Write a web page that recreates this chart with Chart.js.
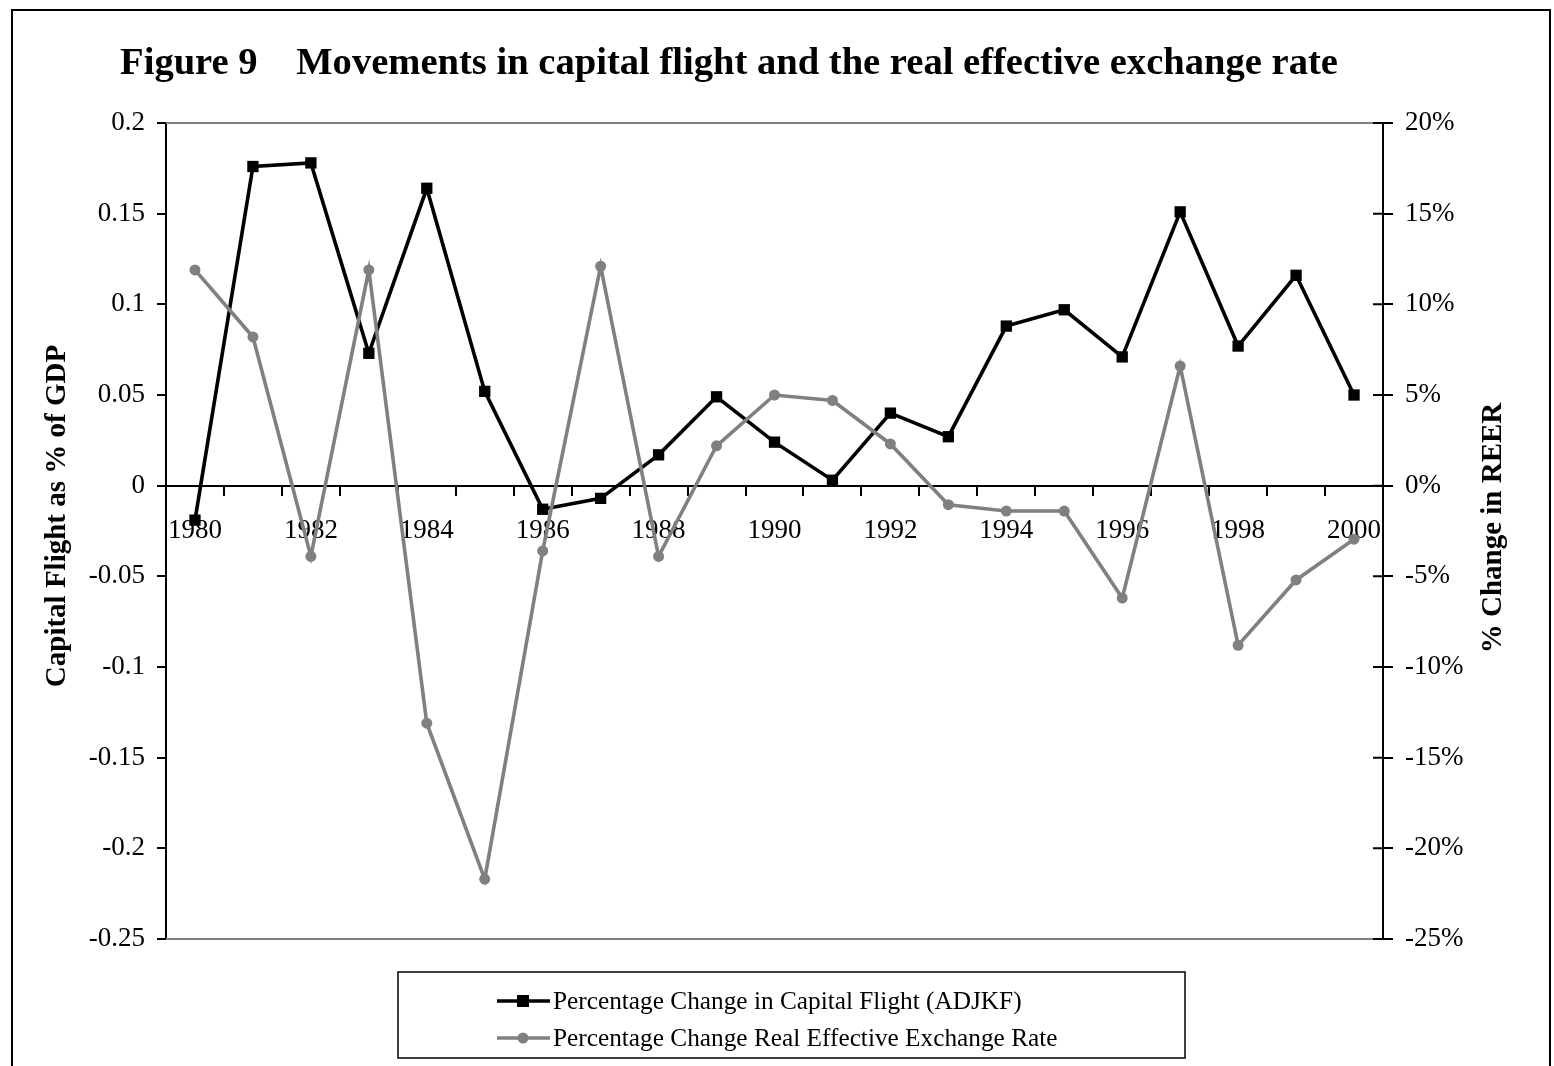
<!DOCTYPE html>
<html>
<head>
<meta charset="utf-8">
<script src="https://cdn.jsdelivr.net/npm/chart.js@4.4.0/dist/chart.umd.min.js"></script>
<style>
  html, body { margin: 0; padding: 0; background: #fff; }
  #wrap { width: 1554px; height: 1066px; }
</style>
</head>
<body>
<div id="wrap"><canvas id="chart" width="1554" height="1066"></canvas></div>
<script>
// Daten
const years = ["1980","1981","1982","1983","1984","1985","1986","1987","1988","1989","1990",
               "1991","1992","1993","1994","1995","1996","1997","1998","1999","2000"];
const capitalFlight = [-0.019, 0.176, 0.178, 0.073, 0.164, 0.052, -0.013, -0.007, 0.017, 0.049, 0.024,
                       0.003, 0.040, 0.027, 0.088, 0.097, 0.071, 0.151, 0.077, 0.116, 0.050];
const reerChange = [11.9, 8.2, -3.9, 11.9, -13.1, -21.7, -3.6, 12.1, -3.9, 2.2, 5.0,
                    4.7, 2.3, -1.05, -1.4, -1.4, -6.2, 6.6, -8.8, -5.2, -2.95];

const seriesNames = ["Percentage Change in Capital Flight (ADJKF)",
                     "Percentage Change Real Effective Exchange Rate"];
const titleText = "Figure 9    Movements in capital flight and the real effective exchange rate";
const leftTitle = "Capital Flight as % of GDP";
const rightTitle = "% Change in REER";

const FONT = "'Liberation Serif', 'Times New Roman', serif";
Chart.defaults.font.family = FONT;
Chart.defaults.color = "#000";

/* --------- Rahmen, Titel, Legende --------- */
const decorations = {
  id: "decorations",
  beforeDatasetsDraw(chart) {
    const { ctx, chartArea: a } = chart;
    ctx.save();
    ctx.strokeStyle = "#808080";
    ctx.lineWidth = 2;
    ctx.beginPath();
    ctx.moveTo(a.left, a.top); ctx.lineTo(a.right, a.top);
    ctx.moveTo(a.left, a.bottom); ctx.lineTo(a.right, a.bottom);
    ctx.stroke();
    // Striche der rechten Achse auch nach innen
    const y1 = chart.scales.y1;
    ctx.strokeStyle = "#000";
    ctx.beginPath();
    y1.ticks.forEach((t, i) => {
      const py = y1.getPixelForTick(i);
      ctx.moveTo(a.right - 10, py); ctx.lineTo(a.right, py);
    });
    ctx.stroke();
    ctx.restore();
  },
  afterDraw(chart) {
    const { ctx } = chart;
    ctx.save();
    // äußerer Rahmen
    ctx.strokeStyle = "#000";
    ctx.lineWidth = 2;
    ctx.beginPath();
    ctx.moveTo(12, 1070); ctx.lineTo(12, 10); ctx.lineTo(1550, 10); ctx.lineTo(1550, 1070);
    ctx.stroke();

    // Titel
    ctx.fillStyle = "#000";
    ctx.font = "bold 38.6px " + FONT;
    ctx.textAlign = "center";
    ctx.textBaseline = "middle";
    ctx.fillText(titleText, 729, 64);

    // Achsentitel
    ctx.font = "bold 29px " + FONT;
    ctx.save();
    ctx.translate(58, 516);
    ctx.rotate(-Math.PI / 2);
    ctx.fillText(leftTitle, 0, 0);
    ctx.restore();
    ctx.save();
    ctx.translate(1494, 528);
    ctx.rotate(-Math.PI / 2);
    ctx.fillText(rightTitle, 0, 0);
    ctx.restore();

    // Legende
    ctx.lineWidth = 1.5;
    ctx.strokeStyle = "#000";
    ctx.strokeRect(398, 972, 787, 86);
    ctx.font = "25.3px " + FONT;
    ctx.textAlign = "left";
    chart.data.datasets.forEach((ds, i) => {
      const y = 1001 + i * 37;
      ctx.strokeStyle = ds.borderColor;
      ctx.lineWidth = 3.5;
      ctx.beginPath();
      ctx.moveTo(497, y); ctx.lineTo(550, y);
      ctx.stroke();
      ctx.fillStyle = ds.borderColor;
      if (ds.pointStyle === "rect") {
        ctx.fillRect(517, y - 6, 12, 12);
      } else {
        ctx.beginPath();
        ctx.arc(523, y, 5.5, 0, Math.PI * 2);
        ctx.fill();
      }
      ctx.fillStyle = "#000";
      ctx.fillText(ds.label, 553, y + 1);
    });
    ctx.restore();
  }
};

new Chart(document.getElementById("chart"), {
  type: "line",
  data: {
    labels: years,
    datasets: [
      {
        label: seriesNames[0],
        data: capitalFlight,
        yAxisID: "y",
        borderColor: "#000000",
        backgroundColor: "#000000",
        borderWidth: 3.6,
        pointStyle: "rect",
        pointRadius: 8,
        pointBorderWidth: 0,
        tension: 0,
        order: 1
      },
      {
        label: seriesNames[1],
        data: reerChange,
        yAxisID: "y1",
        borderColor: "#808080",
        backgroundColor: "#808080",
        borderWidth: 3.6,
        pointStyle: "circle",
        pointRadius: 5.5,
        pointBorderWidth: 0,
        tension: 0,
        order: 0
      }
    ]
  },
  options: {
    responsive: false,
    animation: false,
    clip: false,
    layout: { padding: { top: 123, bottom: 127, left: 0, right: 0 } },
    plugins: {
      legend: { display: false },
      title: { display: false },
      tooltip: { enabled: false }
    },
    scales: {
      x: {
        type: "category",
        position: { y: 0 },
        offset: true,
        grid: { offset: true, drawOnChartArea: false, color: "#000", lineWidth: 2, tickLength: 9 },
        border: { color: "#000", width: 2 },
        ticks: {
          autoSkip: false,
          maxRotation: 0,
          padding: 20,
          font: { size: 27 },
          callback: function (v, i) { return i % 2 === 0 ? this.getLabelForValue(v) : ""; }
        }
      },
      y: {
        position: "left",
        min: -0.25,
        max: 0.2,
        afterFit: (s) => { s.width = 166; },
        grid: { drawOnChartArea: false, color: "#000", lineWidth: 2, tickLength: 9 },
        border: { color: "#000", width: 2 },
        ticks: {
          stepSize: 0.05,
          padding: 12,
          font: { size: 27 },
          callback: (v) => String(Number(v.toFixed(2)))
        }
      },
      y1: {
        position: "right",
        min: -25,
        max: 20,
        afterFit: (s) => { s.width = 171; },
        grid: { drawOnChartArea: false, color: "#000", lineWidth: 2, tickLength: 10 },
        border: { color: "#000", width: 2 },
        ticks: {
          stepSize: 5,
          padding: 12,
          font: { size: 27 },
          callback: (v) => Math.round(v) + "%"
        }
      }
    }
  },
  plugins: [decorations]
});
</script>
</body>
</html>
